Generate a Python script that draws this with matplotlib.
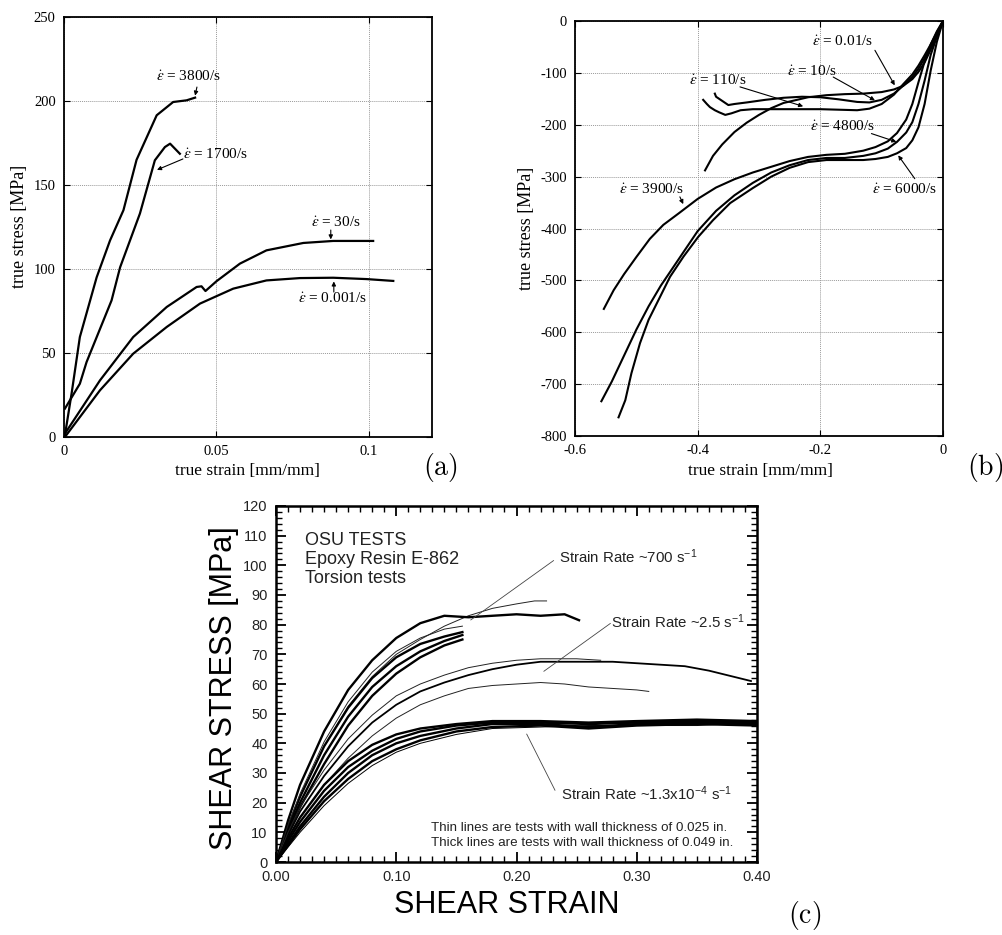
import matplotlib
matplotlib.use("Agg")
import matplotlib.pyplot as plt
from matplotlib.ticker import MultipleLocator, FormatStrFormatter

plt.rcParams['axes.unicode_minus'] = False
plt.rcParams['mathtext.fontset'] = 'stix'

W, H = 1003, 935
SERIF = ['Liberation Serif', 'DejaVu Serif']
SANS = ['Liberation Sans', 'DejaVu Sans']

# ---------------- panel (a): tension ----------------
a_3800_x = [0.0003, 0.0025, 0.0052, 0.0107, 0.0151, 0.0195, 0.0238, 0.0304, 0.0358, 0.0402, 0.043]
a_3800_y = [1, 26, 59.5, 95, 117, 135, 165, 191.5, 199.4, 200.4, 202]
a_1700_x = [0.0003, 0.0052, 0.0074, 0.0156, 0.0184, 0.0249, 0.0298, 0.0331, 0.0348, 0.038]
a_1700_y = [16.9, 31.7, 44.6, 81.3, 101, 133, 164.7, 172.6, 174.6, 168.6]
a_30_x = [0.0003, 0.0118, 0.0227, 0.0337, 0.0435, 0.0451, 0.0464, 0.05, 0.0577, 0.0664, 0.0785, 0.0883, 0.1014]
a_30_y = [2, 33.7, 59.5, 77.4, 89.3, 89.7, 86.9, 92.7, 103.2, 111.1, 115.5, 116.7, 116.7]
a_0001_x = [0.0003, 0.0118, 0.0227, 0.0337, 0.0446, 0.0555, 0.0664, 0.0774, 0.0883, 0.0992, 0.108]
a_0001_y = [0, 27.8, 49.6, 65.5, 79.4, 88.3, 93.2, 94.6, 94.8, 94.0, 92.9]

# ---------------- panel (b): compression ----------------
b_001_x = [0, -0.01, -0.02, -0.03, -0.04, -0.05, -0.065, -0.08, -0.10, -0.13, -0.16, -0.19, -0.22,
           -0.26, -0.28, -0.30, -0.32, -0.34, -0.36, -0.375, -0.388]
b_001_y = [0, -28, -55, -80, -98, -112, -125, -132, -137, -140, -141, -143, -147,
           -158, -168, -181, -196, -214, -238, -260, -288]
b_10_x = [0, -0.01, -0.02, -0.03, -0.04, -0.05, -0.065, -0.08, -0.10, -0.12, -0.14, -0.17, -0.20,
          -0.23, -0.26, -0.29, -0.32, -0.34, -0.35, -0.36, -0.365, -0.37, -0.372]
b_10_y = [0, -25, -50, -72, -92, -108, -125, -140, -152, -157, -156, -151, -147,
          -146, -148, -152, -157, -160, -162, -154, -150, -146, -140]
b_110_x = [0, -0.01, -0.02, -0.03, -0.04, -0.05, -0.065, -0.08, -0.10, -0.12, -0.14, -0.17, -0.20,
           -0.24, -0.28, -0.31, -0.33, -0.345, -0.355, -0.365, -0.372, -0.38, -0.385, -0.391]
b_110_y = [0, -22, -45, -66, -86, -103, -122, -142, -160, -169, -172, -171, -170,
           -170, -170, -170, -172, -178, -181, -176, -172, -166, -160, -152]
b_3900_x = [0, -0.01, -0.02, -0.03, -0.04, -0.05, -0.06, -0.075, -0.09, -0.11, -0.13, -0.16, -0.19,
            -0.22, -0.25, -0.28, -0.31, -0.34, -0.37, -0.40, -0.43, -0.456, -0.478, -0.50, -0.52,
            -0.537, -0.553]
b_3900_y = [0, -20, -45, -78, -118, -160, -190, -216, -232, -243, -250, -256, -258,
            -262, -270, -281, -292, -305, -321, -343, -370, -393, -420, -455, -488, -519, -555]
b_4800_x = [0, -0.01, -0.02, -0.03, -0.04, -0.05, -0.06, -0.075, -0.09, -0.11, -0.13, -0.16, -0.19,
            -0.22, -0.25, -0.28, -0.31, -0.34, -0.37, -0.40, -0.42, -0.44, -0.46, -0.48, -0.50,
            -0.52, -0.54, -0.557]
b_4800_y = [0, -30, -65, -115, -160, -195, -215, -233, -246, -255, -260, -264, -264,
            -268, -278, -292, -312, -336, -366, -405, -440, -475, -510, -550, -595, -645, -695, -733]
b_6000_x = [0, -0.01, -0.02, -0.03, -0.04, -0.05, -0.06, -0.075, -0.09, -0.11, -0.13, -0.16, -0.19,
            -0.22, -0.25, -0.28, -0.31, -0.347, -0.375, -0.399, -0.423, -0.445, -0.461, -0.48,
            -0.494, -0.508, -0.518, -0.529]
b_6000_y = [0, -40, -95, -160, -205, -230, -245, -255, -262, -266, -268, -268, -268,
            -272, -283, -300, -322, -351, -384, -416, -454, -493, -531, -576, -621, -679, -731, -764]

# ---------------- panel (c): torsion ----------------
c_hi_t1_x = [0, 0.01, 0.02, 0.04, 0.06, 0.08, 0.10, 0.12, 0.14, 0.16, 0.18, 0.20, 0.215, 0.225]
c_hi_t1_y = [0, 12, 22, 39, 52.5, 62.5, 70, 75, 79.5, 83, 85.5, 87, 88, 88]
c_hi_k1_x = [0, 0.01, 0.02, 0.04, 0.06, 0.08, 0.10, 0.12, 0.14, 0.16, 0.18, 0.20, 0.22, 0.24, 0.252]
c_hi_k1_y = [0, 14, 26, 44, 58, 68, 75.5, 80.5, 83, 82.5, 83, 83.5, 83, 83.5, 81.5]
c_hi_short_x = [0, 0.01, 0.02, 0.04, 0.06, 0.08, 0.10, 0.12, 0.14, 0.155]
c_hi_k2_y = [0, 12, 22, 39, 52, 62, 69, 73.5, 76, 77.5]
c_hi_k3_y = [0, 11, 20, 36, 49, 59, 66, 71, 74.5, 76.5]
c_hi_k4_y = [0, 10, 18.5, 33, 46, 56, 63.5, 69, 73, 75]
c_hi_t2_y = [0, 12.5, 23, 40.5, 54, 64, 71, 75.5, 78.5, 79.5]

c_mid_k_x = [0, 0.01, 0.02, 0.04, 0.06, 0.08, 0.10, 0.12, 0.14, 0.16, 0.18, 0.20, 0.22, 0.25,
             0.28, 0.30, 0.32, 0.34, 0.36, 0.38, 0.395]
c_mid_k_y = [0, 9, 17, 29, 39, 47, 53, 57.5, 60.5, 63, 65, 66.5, 67.5, 67.5,
             67.5, 67, 66.5, 66, 64.5, 62.5, 61]
c_mid_t1_x = [0, 0.01, 0.02, 0.04, 0.06, 0.08, 0.10, 0.12, 0.14, 0.16, 0.18, 0.20, 0.22, 0.25, 0.27]
c_mid_t1_y = [0, 10, 18.5, 31, 41.5, 49.5, 56, 60, 63, 65.5, 67, 68, 68.5, 68.5, 68]
c_mid_t2_x = [0, 0.01, 0.02, 0.04, 0.06, 0.08, 0.10, 0.12, 0.14, 0.16, 0.18, 0.20, 0.22, 0.24,
              0.26, 0.28, 0.30, 0.31]
c_mid_t2_y = [0, 8, 15, 26, 35, 42.5, 48.5, 53, 56, 58.5, 59.5, 60, 60.5, 60, 59, 58.5, 58, 57.5]

c_lo_x = [0, 0.01, 0.02, 0.04, 0.06, 0.08, 0.10, 0.12, 0.15, 0.18, 0.22, 0.26, 0.30, 0.35, 0.40]
c_lo_1_y = [0, 8, 15, 26, 34, 39.5, 43, 45, 46.5, 47.5, 47.5, 47, 47.5, 48, 47.5]
c_lo_2_y = [0, 7, 13.5, 24, 32, 37.5, 41.5, 44, 46, 47, 47, 46.5, 47, 47.5, 47]
c_lo_3_y = [0, 6, 12, 22, 30, 36, 40, 42.5, 45, 46.5, 46.5, 45.5, 46.5, 47, 46.5]
c_lo_4_y = [0, 5.5, 11, 20.5, 28, 34, 38, 41, 44, 45.5, 46, 45, 46, 46.5, 46]
c_lo_5_y = [0, 5, 10, 19, 26.5, 32.5, 37, 40, 43, 45, 45.5, 46, 46, 46, 47]

fig = plt.figure(figsize=(W / 100, H / 100), dpi=100)


def rect(l, t, r, b):
    return [l / W, 1 - b / H, (r - l) / W, (b - t) / H]


def ftext(px, py, s, **kw):
    fig.text(px / W, 1 - py / H, s, ha='center', va='center', **kw)


def style_ab(ax):
    ax.grid(True, color='#9a9a9a', linestyle=(0, (1, 1)), linewidth=0.7)
    ax.tick_params(direction='in', top=True, right=True, length=4, width=0.8,
                   labelsize=10.5, pad=6)
    for lab in ax.get_xticklabels() + ax.get_yticklabels():
        lab.set_family(SERIF)
    for sp in ax.spines.values():
        sp.set_linewidth(1.3)


def rate_label(ax, txt, xy, tail, tip):
    ax.text(xy[0], xy[1], r'$\dot{\varepsilon}$ = ' + txt, ha='center', va='center',
            fontsize=11, family=SERIF)
    ax.annotate('', xy=tip, xytext=tail,
                arrowprops=dict(arrowstyle='-|>', lw=0.8, color='k', mutation_scale=6,
                                shrinkA=0, shrinkB=0))


# panel (a)
ax = fig.add_axes(rect(64, 17, 432, 437))
for xs, ys in [(a_3800_x, a_3800_y), (a_1700_x, a_1700_y), (a_30_x, a_30_y), (a_0001_x, a_0001_y)]:
    ax.plot(xs, ys, color='k', lw=1.6)
ax.set_xlim(0, 0.1207)
ax.set_ylim(0, 250)
ax.set_xticks([0, 0.05, 0.1])
ax.set_xticklabels(['0', '0.05', '0.1'])
ax.set_yticks(range(0, 251, 50))
style_ab(ax)
rate_label(ax, '3800/s', (0.041, 214.3), (0.0436, 208.3), (0.043, 203.2))
rate_label(ax, '1700/s', (0.0498, 167.9), (0.039, 165.5), (0.0305, 159))
rate_label(ax, '30/s', (0.0892, 127.4), (0.0875, 123.2), (0.0875, 117.6))
rate_label(ax, '0.001/s', (0.0882, 82.1), (0.0885, 86.3), (0.0885, 92.6))
ftext(20, 226, 'true stress [MPa]', rotation=90, fontsize=13, family=SERIF)
ftext(247, 471, 'true strain [mm/mm]', fontsize=12.5, family=SERIF)
ftext(440, 468, r'$\mathrm{(a)}$', fontsize=20, math_fontfamily='cm')

# panel (b)
ax = fig.add_axes(rect(575, 21, 943, 436))
for xs, ys in [(b_001_x, b_001_y), (b_10_x, b_10_y), (b_110_x, b_110_y),
               (b_3900_x, b_3900_y), (b_4800_x, b_4800_y), (b_6000_x, b_6000_y)]:
    ax.plot(xs, ys, color='k', lw=1.5)
ax.set_xlim(-0.6, 0)
ax.set_ylim(-800, 0)
ax.set_xticks([-0.6, -0.4, -0.2, 0])
ax.set_xticklabels(['-0.6', '-0.4', '-0.2', '0'])
ax.set_yticks(range(-800, 1, 100))
style_ab(ax)
rate_label(ax, '0.01/s', (-0.163, -40.5), (-0.111, -56.5), (-0.0787, -124))
rate_label(ax, '10/s', (-0.2145, -98.3), (-0.179, -108), (-0.111, -153))
rate_label(ax, '110/s', (-0.3665, -114.4), (-0.331, -127), (-0.228, -164.5))
rate_label(ax, '4800/s', (-0.163, -204), (-0.1167, -217), (-0.076, -233))
rate_label(ax, '6000/s', (-0.0624, -326), (-0.046, -304), (-0.073, -259))
rate_label(ax, '3900/s', (-0.475, -326), (-0.429, -339), (-0.4235, -353))
ftext(527, 228, 'true stress [MPa]', rotation=90, fontsize=13, family=SERIF)
ftext(760, 471, 'true strain [mm/mm]', fontsize=12.5, family=SERIF)
ftext(985, 468, r'$\mathrm{(b)}$', fontsize=20, math_fontfamily='cm')

# panel (c)
ax = fig.add_axes(rect(276, 506, 757, 862))
thin, thick = 0.7, 1.7
ax.plot(c_hi_t1_x, c_hi_t1_y, color='#222', lw=thin)
ax.plot(c_hi_k1_x, c_hi_k1_y, color='k', lw=thick)
ax.plot(c_hi_short_x, c_hi_k2_y, color='k', lw=thick)
ax.plot(c_hi_short_x, c_hi_k3_y, color='k', lw=thick)
ax.plot(c_hi_short_x, c_hi_k4_y, color='k', lw=thick)
ax.plot(c_hi_short_x, c_hi_t2_y, color='#222', lw=thin)
ax.plot(c_mid_k_x, c_mid_k_y, color='k', lw=1.3)
ax.plot(c_mid_t1_x, c_mid_t1_y, color='#222', lw=thin)
ax.plot(c_mid_t2_x, c_mid_t2_y, color='#222', lw=thin)
for ys, lw in [(c_lo_1_y, thick), (c_lo_2_y, thick), (c_lo_3_y, thick), (c_lo_4_y, thick),
               (c_lo_5_y, thin)]:
    ax.plot(c_lo_x, ys, color='k', lw=lw)
ax.set_xlim(0, 0.4)
ax.set_ylim(0, 120)
ax.xaxis.set_major_locator(MultipleLocator(0.1))
ax.xaxis.set_minor_locator(MultipleLocator(0.01))
ax.yaxis.set_major_locator(MultipleLocator(10))
ax.yaxis.set_minor_locator(MultipleLocator(2))
ax.xaxis.set_major_formatter(FormatStrFormatter('%.2f'))
ax.tick_params(which='both', direction='in', top=True, right=True, labelsize=10.5,
               labelcolor='#222')
ax.tick_params(which='major', length=7, width=1.3, pad=6)
ax.tick_params(which='minor', length=4, width=1.0)
for lab in ax.get_xticklabels() + ax.get_yticklabels():
    lab.set_family(SANS)
for sp in ax.spines.values():
    sp.set_linewidth(1.8)

for yv, s in [(108.3, 'OSU TESTS'), (102.0, 'Epoxy Resin E-862'), (95.7, 'Torsion tests')]:
    ax.text(0.024, yv, s, fontsize=13, family=SANS, color='#222', va='center')
ax.text(0.2356, 103, r'Strain Rate ~700 s$^{\mathregular{-1}}$', fontsize=10.8, family=SANS,
        color='#222', va='center')
ax.plot([0.2308, 0.162], [101.6, 81.6], color='#444', lw=0.6)
ax.text(0.279, 81, r'Strain Rate ~2.5 s$^{\mathregular{-1}}$', fontsize=10.8, family=SANS,
        color='#222', va='center')
ax.plot([0.278, 0.2228], [80.4, 64.3], color='#444', lw=0.6)
ax.text(0.237, 23, r'Strain Rate ~1.3x10$^{\mathregular{-4}}$ s$^{\mathregular{-1}}$', fontsize=10.8,
        family=SANS, color='#222', va='center')
ax.plot([0.232, 0.2085], [24.2, 43.1], color='#444', lw=0.6)
ax.text(0.1287, 11.6, 'Thin lines are tests with wall thickness of 0.025 in.', fontsize=9.6,
        family=SANS, color='#222', va='center')
ax.text(0.1287, 6.35, 'Thick lines are tests with wall thickness of 0.049 in.', fontsize=9.6,
        family=SANS, color='#222', va='center')
ftext(224, 688, 'SHEAR STRESS [MPa]', rotation=90, fontsize=22, family=SANS)
ftext(507, 905, 'SHEAR STRAIN', fontsize=22, family=SANS)
ftext(805, 915, r'$\mathrm{(c)}$', fontsize=20, math_fontfamily='cm')

fig.savefig('out.png', dpi=100)
